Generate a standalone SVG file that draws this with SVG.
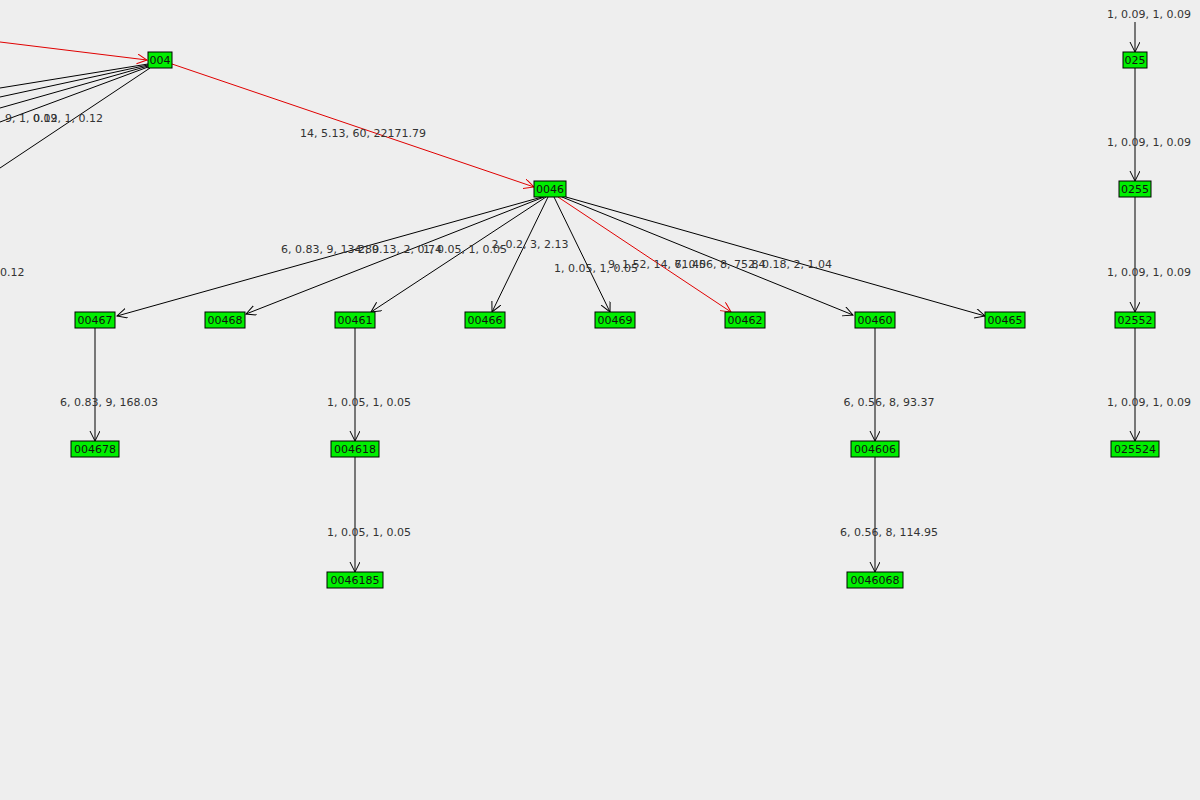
<svg xmlns="http://www.w3.org/2000/svg" width="1200" height="800" viewBox="0 0 1200 800">
<style>
.n rect{fill:#00ee00;stroke:#000;stroke-width:1}
.n text{font-family:"DejaVu Sans",sans-serif;font-size:11px;fill:#111;text-anchor:middle}
.e{stroke:#000;stroke-width:1;fill:none;marker-end:url(#a)}
.r{stroke:#e00000;stroke-width:1;fill:none;marker-end:url(#ar)}
.l{font-family:"DejaVu Sans",sans-serif;font-size:11px;fill:#333;text-anchor:middle}
</style>
<defs>
<marker id="a" markerWidth="12" markerHeight="12" refX="10" refY="5" orient="auto" markerUnits="userSpaceOnUse"><path d="M0,0 L10,5 L0,10" fill="none" stroke="#000"/></marker>
<marker id="ar" markerWidth="12" markerHeight="12" refX="10" refY="5" orient="auto" markerUnits="userSpaceOnUse"><path d="M0,0 L10,5 L0,10" fill="none" stroke="#e00000"/></marker>
</defs>
<rect width="1200" height="800" fill="#eeeeee"/>
<g id="connectors">
<path class="r" d="M0,42 L147,60"/>
<path d="M148,64 L0,88 M148,65 L0,97 M148,66 L0,108 M148,67 L0,122 M150,68 L0,168" stroke="#000" fill="none"/>
<path class="r" d="M172,64 L534,187"/>
<path class="e" d="M542,197 L117,316"/>
<path class="e" d="M544,197 L246,314"/>
<path class="e" d="M546,197 L371,312"/>
<path class="e" d="M548,197 L492,312"/>
<path class="e" d="M554,197 L610,312"/>
<path class="r" d="M558,197 L731,312"/>
<path class="e" d="M562,197 L853,315"/>
<path class="e" d="M566,197 L985,316"/>
<path class="e" d="M95,328 L95,441"/>
<path class="e" d="M355,328 L355,441"/>
<path class="e" d="M355,457 L355,572"/>
<path class="e" d="M875,328 L875,441"/>
<path class="e" d="M875,457 L875,572"/>
<path class="e" d="M1135,22 L1135,52"/>
<path class="e" d="M1135,68 L1135,181"/>
<path class="e" d="M1135,197 L1135,312"/>
<path class="e" d="M1135,328 L1135,441"/>
</g>
<g id="labels">
<text class="l" x="5" y="122" text-anchor="start" style="text-anchor:start">9, 1, 0.09</text>
<text class="l" x="33" y="122" style="text-anchor:start">0.12, 1, 0.12</text>
<text class="l" x="0" y="276" style="text-anchor:start">0.12</text>
<text class="l" x="363" y="137">14, 5.13, 60, 22171.79</text>
<text class="l" x="330" y="253">6, 0.83, 9, 134.89</text>
<text class="l" x="400" y="253">2, 0.13, 2, 0.74</text>
<text class="l" x="465" y="253">1, 0.05, 1, 0.05</text>
<text class="l" x="530" y="248">2, 0.2, 3, 2.13</text>
<text class="l" x="596" y="272">1, 0.05, 1, 0.05</text>
<text class="l" x="657" y="268">9, 1.52, 14, 71.40</text>
<text class="l" x="720" y="268">6, 0.56, 8, 75.84</text>
<text class="l" x="790" y="268">2, 0.18, 2, 1.04</text>
<text class="l" x="109" y="406">6, 0.83, 9, 168.03</text>
<text class="l" x="369" y="406">1, 0.05, 1, 0.05</text>
<text class="l" x="369" y="536">1, 0.05, 1, 0.05</text>
<text class="l" x="889" y="406">6, 0.56, 8, 93.37</text>
<text class="l" x="889" y="536">6, 0.56, 8, 114.95</text>
<text class="l" x="1149" y="18">1, 0.09, 1, 0.09</text>
<text class="l" x="1149" y="146">1, 0.09, 1, 0.09</text>
<text class="l" x="1149" y="276">1, 0.09, 1, 0.09</text>
<text class="l" x="1149" y="406">1, 0.09, 1, 0.09</text>
</g>
<g id="n004" class="n"><rect x="148" y="52" width="24" height="16"/><text x="160" y="64">004</text></g>
<g id="n0046" class="n"><rect x="534" y="181" width="32" height="16"/><text x="550" y="193">0046</text></g>
<g id="n00467" class="n"><rect x="75" y="312" width="40" height="16"/><text x="95" y="324">00467</text></g>
<g id="n00468" class="n"><rect x="205" y="312" width="40" height="16"/><text x="225" y="324">00468</text></g>
<g id="n00461" class="n"><rect x="335" y="312" width="40" height="16"/><text x="355" y="324">00461</text></g>
<g id="n00466" class="n"><rect x="465" y="312" width="40" height="16"/><text x="485" y="324">00466</text></g>
<g id="n00469" class="n"><rect x="595" y="312" width="40" height="16"/><text x="615" y="324">00469</text></g>
<g id="n00462" class="n"><rect x="725" y="312" width="40" height="16"/><text x="745" y="324">00462</text></g>
<g id="n00460" class="n"><rect x="855" y="312" width="40" height="16"/><text x="875" y="324">00460</text></g>
<g id="n00465" class="n"><rect x="985" y="312" width="40" height="16"/><text x="1005" y="324">00465</text></g>
<g id="n004678" class="n"><rect x="71" y="441" width="48" height="16"/><text x="95" y="453">004678</text></g>
<g id="n004618" class="n"><rect x="331" y="441" width="48" height="16"/><text x="355" y="453">004618</text></g>
<g id="n0046185" class="n"><rect x="327" y="572" width="56" height="16"/><text x="355" y="584">0046185</text></g>
<g id="n004606" class="n"><rect x="851" y="441" width="48" height="16"/><text x="875" y="453">004606</text></g>
<g id="n0046068" class="n"><rect x="847" y="572" width="56" height="16"/><text x="875" y="584">0046068</text></g>
<g id="n025" class="n"><rect x="1123" y="52" width="24" height="16"/><text x="1135" y="64">025</text></g>
<g id="n0255" class="n"><rect x="1119" y="181" width="32" height="16"/><text x="1135" y="193">0255</text></g>
<g id="n02552" class="n"><rect x="1115" y="312" width="40" height="16"/><text x="1135" y="324">02552</text></g>
<g id="n025524" class="n"><rect x="1111" y="441" width="48" height="16"/><text x="1135" y="453">025524</text></g>
</svg>
